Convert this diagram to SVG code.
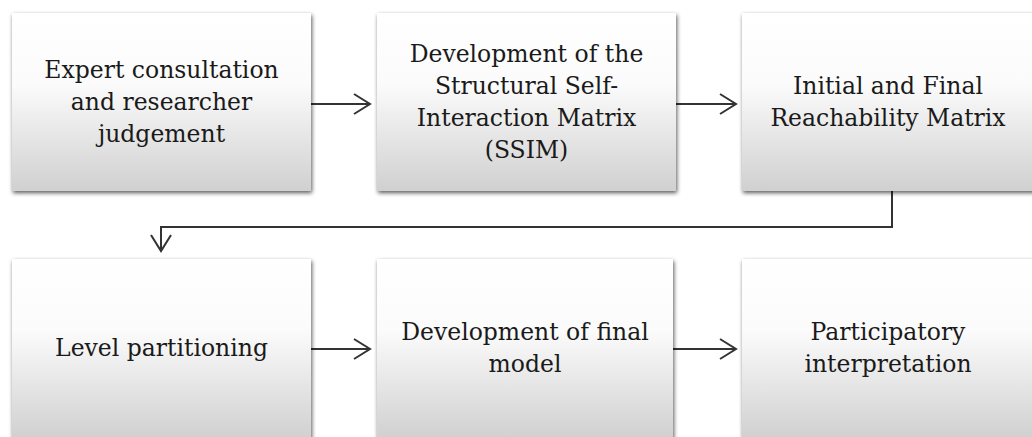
<svg xmlns="http://www.w3.org/2000/svg" width="1032" height="437" viewBox="0 0 1032 437">
<style>
.box{fill:url(#g);filter:url(#sh)}
.t{font-family:"DejaVu Serif","Liberation Serif",serif;font-size:23.5px;fill:#1a1a1a;text-anchor:middle}
.c{fill:none;stroke:#333;stroke-width:2}
</style>
<defs>
<linearGradient id="g" x1="0" y1="0" x2="0" y2="1">
<stop offset="0" stop-color="#ffffff"/>
<stop offset="0.4" stop-color="#fbfbfb"/>
<stop offset="1" stop-color="#d0d0d0"/>
</linearGradient>
<filter id="sh" x="-5%" y="-5%" width="115%" height="115%">
<feGaussianBlur in="SourceAlpha" stdDeviation="2"/>
<feOffset dx="1" dy="2" result="b"/>
<feComponentTransfer><feFuncA type="linear" slope="0.65"/></feComponentTransfer>
<feMerge><feMergeNode/><feMergeNode in="SourceGraphic"/></feMerge>
</filter>
<marker id="a" markerWidth="20" markerHeight="24" refX="17" refY="11" orient="auto" markerUnits="userSpaceOnUse">
<path d="M1,1 L17,11 L1,21" fill="none" stroke="#333" stroke-width="2"/>
</marker>
</defs>
<rect width="1032" height="437" fill="#fff"/>
<g id="connectors">
<path class="c" d="M311,104 H370" marker-end="url(#a)"/>
<path class="c" d="M676,104 H736" marker-end="url(#a)"/>
<path class="c" d="M892,191 V227 H161 V251" marker-end="url(#a)"/>
<path class="c" d="M311,349 H370" marker-end="url(#a)"/>
<path class="c" d="M673,349 H736" marker-end="url(#a)"/>
</g>
<g id="n1">
<rect class="box" x="12" y="13" width="299" height="178"/>
<text class="t" x="161.5" y="78">Expert consultation</text>
<text class="t" x="161.5" y="110">and researcher</text>
<text class="t" x="161.5" y="142">judgement</text>
</g>
<g id="n2">
<rect class="box" x="377" y="13" width="299" height="178"/>
<text class="t" x="526.5" y="62">Development of the</text>
<text class="t" x="526.5" y="94">Structural Self-</text>
<text class="t" x="526.5" y="126">Interaction Matrix</text>
<text class="t" x="526.5" y="158">(SSIM)</text>
</g>
<g id="n3">
<rect class="box" x="742" y="13" width="299" height="178"/>
<text class="t" x="888" y="94">Initial and Final</text>
<text class="t" x="888" y="126">Reachability Matrix</text>
</g>
<g id="n4">
<rect class="box" x="12" y="259" width="299" height="180"/>
<text class="t" x="161.5" y="356">Level partitioning</text>
</g>
<g id="n5">
<rect class="box" x="377" y="259" width="296" height="180"/>
<text class="t" x="525" y="340">Development of final</text>
<text class="t" x="525" y="372">model</text>
</g>
<g id="n6">
<rect class="box" x="742" y="259" width="299" height="180"/>
<text class="t" x="888" y="340">Participatory</text>
<text class="t" x="888" y="372">interpretation</text>
</g>
</svg>
